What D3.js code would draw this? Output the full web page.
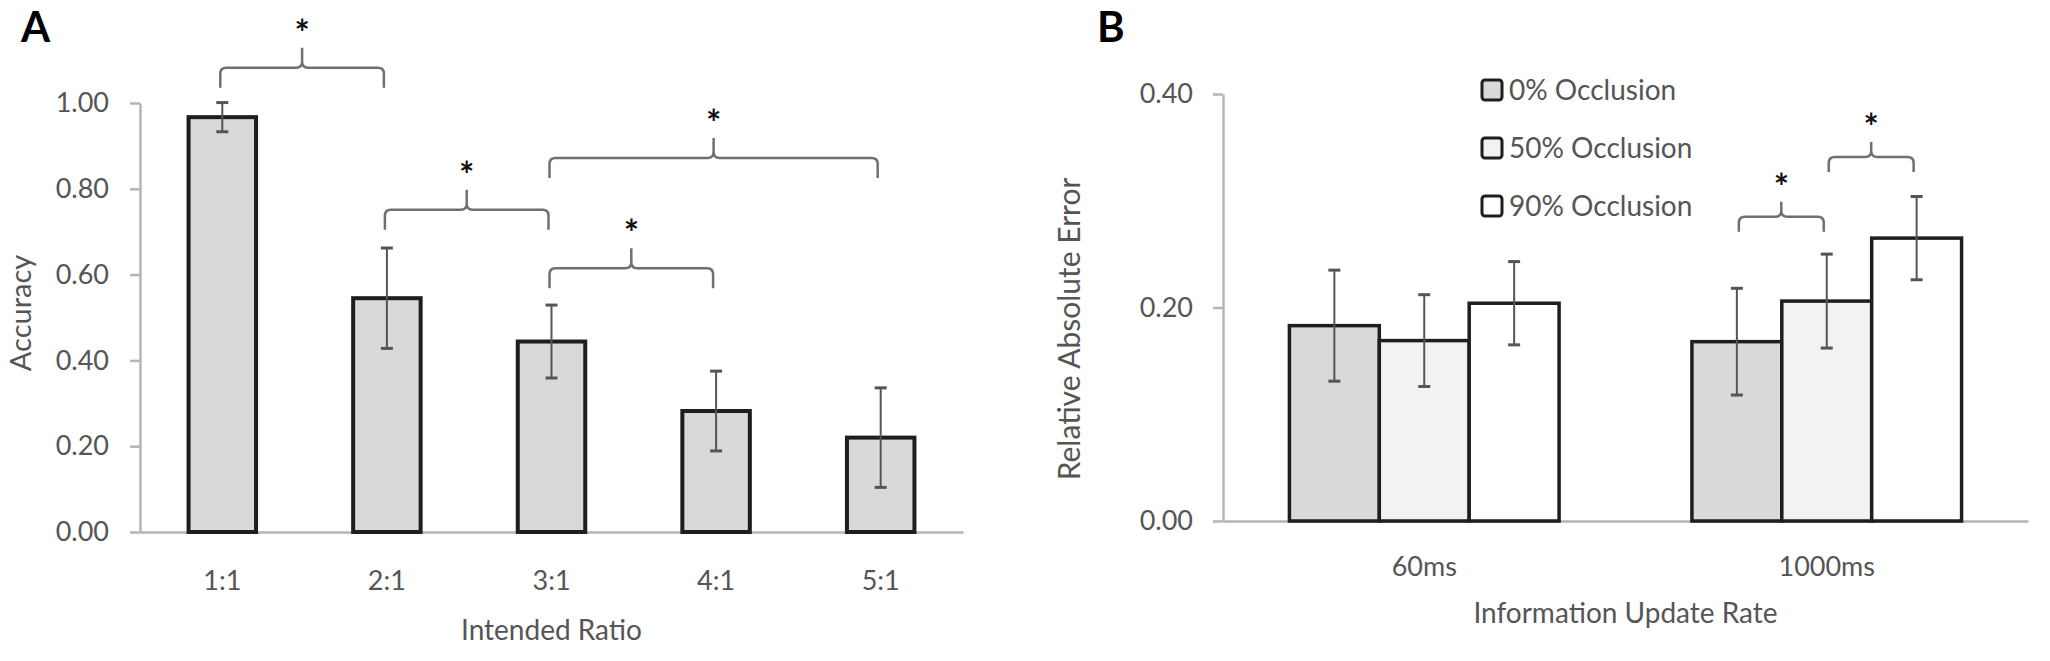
<!DOCTYPE html>
<html>
<head>
<meta charset="utf-8">
<script src="https://cdn.jsdelivr.net/npm/d3@7"></script>
<style>
  body { margin: 0; background: #fff; }
  text { font-family: Lato, "Open Sans", sans-serif; }
</style>
</head>
<body>
<div id="chart"></div>
<script>
// ---- Panel A: accuracy by intended ratio
const ratios = ["1:1", "2:1", "3:1", "4:1", "5:1"];
const accuracy = [0.967, 0.545, 0.444, 0.282, 0.220];
const accuracyErr = [0.034, 0.117, 0.085, 0.093, 0.116];
const accuracyTicks = [0, 0.2, 0.4, 0.6, 0.8, 1.0];
// significance brackets: [from, to, bracket height]
const accuracySig = [["1:1", "2:1", 1.082], ["2:1", "3:1", 0.751], ["3:1", "5:1", 0.872], ["3:1", "4:1", 0.615]];

// ---- Panel B: relative absolute error by update rate and occlusion
const rates = ["60ms", "1000ms"];
const occlusions = ["0% Occlusion", "50% Occlusion", "90% Occlusion"];
const errMean = [[0.183, 0.169, 0.204], [0.168, 0.206, 0.265]];
const errSD = [[0.052, 0.043, 0.039], [0.050, 0.044, 0.039]];
const errTicks = [0, 0.2, 0.4];
// [rate, from series, to series, bracket height]
const errSig = [["1000ms", "0% Occlusion", "50% Occlusion", 0.285], ["1000ms", "50% Occlusion", "90% Occlusion", 0.341]];

const W = 2050, H = 661;
const textColor = "#555";
const axisColor = "#b5b5b5";

const svg = d3.select("#chart").append("svg")
    .attr("width", W)
    .attr("height", H);

// curly significance bracket with a star above the tip
function bracket(g, x1, x2, yTop, drop, rise) {
    const xm = (x1 + x2) / 2, r = 6;
    const p = `M${x1},${yTop + drop} V${yTop + r} Q${x1},${yTop} ${x1 + r},${yTop} H${xm - r} Q${xm},${yTop} ${xm},${yTop - r} V${yTop - rise}`
            + ` M${xm},${yTop - r} Q${xm},${yTop} ${xm + r},${yTop} H${x2 - r} Q${x2},${yTop} ${x2},${yTop + r} V${yTop + drop}`;
    g.append("path")
        .attr("d", p)
        .attr("fill", "none")
        .attr("stroke", "#707070")
        .attr("stroke-width", 2.5);
    g.append("text")
        .attr("x", xm)
        .attr("y", yTop - rise - 2)
        .attr("text-anchor", "middle")
        .attr("font-size", 36)
        .attr("font-weight", "bold")
        .attr("fill", "#111")
        .text("*");
}

function errorBar(g, cx, y, mean, err) {
    const cap = 6;
    g.append("line")
        .attr("x1", cx).attr("x2", cx)
        .attr("y1", y(mean + err)).attr("y2", y(mean - err))
        .attr("stroke", "#555").attr("stroke-width", 2);
    [mean + err, mean - err].forEach(v => {
        g.append("line")
            .attr("x1", cx - cap).attr("x2", cx + cap)
            .attr("y1", y(v)).attr("y2", y(v))
            .attr("stroke", "#555").attr("stroke-width", 3);
    });
}

function styleAxis(g) {
    g.select(".domain").attr("stroke", axisColor).attr("stroke-width", 2.5);
    g.selectAll(".tick line").attr("stroke", axisColor).attr("stroke-width", 2.5);
    g.selectAll(".tick text")
        .attr("fill", textColor)
        .attr("font-size", 27)
        .attr("font-family", "Lato, sans-serif");
}

// ================= Panel A =================
const gA = svg.append("g");

const xA = d3.scaleBand()
    .domain(ratios)
    .range([140, 963])
    .paddingInner(0.59)
    .paddingOuter(0.295);

const yA = d3.scaleLinear()
    .domain([0, 1])
    .range([532, 103]);

gA.append("g")
    .attr("transform", "translate(140,0)")
    .call(d3.axisLeft(yA).tickValues(accuracyTicks).tickFormat(d3.format(".2f"))
        .tickSize(10).tickPadding(21).tickSizeOuter(0))
    .call(styleAxis);

gA.append("g")
    .attr("transform", `translate(0,${yA(0)})`)
    .call(d3.axisBottom(xA).tickSize(0).tickSizeOuter(0))
    .call(styleAxis)
    .call(g => g.selectAll(".tick text").attr("dy", null).attr("y", 58));

gA.selectAll("rect.bar")
    .data(ratios)
    .enter()
    .append("rect")
    .attr("class", "bar")
    .attr("x", d => xA(d))
    .attr("y", (d, i) => yA(accuracy[i]))
    .attr("width", xA.bandwidth())
    .attr("height", (d, i) => yA(0) - yA(accuracy[i]))
    .attr("fill", "#d9d9d9")
    .attr("stroke", "#1e1e1e")
    .attr("stroke-width", 4);

ratios.forEach((d, i) => errorBar(gA, xA(d) + xA.bandwidth() / 2, yA, accuracy[i], accuracyErr[i]));

accuracySig.forEach(([a, b, h]) => {
    bracket(gA, xA(a) + xA.bandwidth() / 2 - 2, xA(b) + xA.bandwidth() / 2 - 3, yA(h), 20, 20);
});

gA.append("text")
    .attr("transform", "translate(31,313) rotate(-90)")
    .attr("text-anchor", "middle")
    .attr("font-size", 29)
    .attr("fill", textColor)
    .text("Accuracy");

gA.append("text")
    .attr("x", (xA.range()[0] + xA.range()[1]) / 2)
    .attr("y", 640)
    .attr("text-anchor", "middle")
    .attr("font-size", 28)
    .attr("fill", textColor)
    .text("Intended Ratio");

svg.append("text")
    .attr("x", 21)
    .attr("y", 42)
    .attr("font-family", "'Liberation Sans', Arial, sans-serif")
    .attr("font-weight", "bold")
    .attr("font-size", 42)
    .attr("fill", "#000")
    .text("A");

// ================= Panel B =================
const gB = svg.append("g");
const fills = ["#d9d9d9", "#f2f2f2", "#ffffff"];

const x0 = d3.scaleBand()
    .domain(rates)
    .range([1223, 2028])
    .paddingInner(0.33)
    .paddingOuter(0.165);

const x1 = d3.scaleBand()
    .domain(occlusions)
    .range([0, x0.bandwidth()]);

const yB = d3.scaleLinear()
    .domain([0, 0.4])
    .range([521, 94]);

const color = d3.scaleOrdinal().domain(occlusions).range(fills);

gB.append("g")
    .attr("transform", "translate(1223,0)")
    .call(d3.axisLeft(yB).tickValues(errTicks).tickFormat(d3.format(".2f"))
        .tickSize(10).tickPadding(20).tickSizeOuter(0))
    .call(styleAxis);

gB.append("g")
    .attr("transform", `translate(0,${yB(0)})`)
    .call(d3.axisBottom(x0).tickSize(0).tickSizeOuter(0))
    .call(styleAxis)
    .call(g => g.selectAll(".tick text").attr("dy", null).attr("y", 55));

const groups = gB.selectAll("g.rate")
    .data(rates)
    .enter()
    .append("g")
    .attr("class", "rate")
    .attr("transform", d => `translate(${x0(d)},0)`);

groups.each(function(rate, ri) {
    const g = d3.select(this);
    g.selectAll("rect")
        .data(occlusions)
        .enter()
        .append("rect")
        .attr("x", d => x1(d))
        .attr("y", (d, si) => yB(errMean[ri][si]))
        .attr("width", x1.bandwidth())
        .attr("height", (d, si) => yB(0) - yB(errMean[ri][si]))
        .attr("fill", d => color(d))
        .attr("stroke", "#1e1e1e")
        .attr("stroke-width", 3.5);
    occlusions.forEach((d, si) => errorBar(g, x1(d) + x1.bandwidth() / 2, yB, errMean[ri][si], errSD[ri][si]));
});

errSig.forEach(([rate, a, b, h]) => {
    const cx = s => x0(rate) + x1(s) + x1.bandwidth() / 2;
    bracket(gB, cx(a) + 2, cx(b) - 3, yB(h), 15, 15);
});

// legend
const legend = gB.append("g")
    .attr("transform", "translate(1482,90)");

occlusions.forEach((d, i) => {
    const row = legend.append("g").attr("transform", `translate(0,${i * 58})`);
    row.append("rect")
        .attr("x", 0).attr("y", -10)
        .attr("width", 20).attr("height", 20)
        .attr("rx", 3)
        .attr("fill", color(d))
        .attr("stroke", "#1e1e1e")
        .attr("stroke-width", 3);
    row.append("text")
        .attr("x", 27)
        .attr("y", 0)
        .attr("dy", "0.36em")
        .attr("font-size", 28)
        .attr("fill", textColor)
        .text(d);
});

gB.append("text")
    .attr("transform", "translate(1080,329) rotate(-90)")
    .attr("text-anchor", "middle")
    .attr("font-size", 30)
    .attr("fill", textColor)
    .text("Relative Absolute Error");

gB.append("text")
    .attr("x", (x0.range()[0] + x0.range()[1]) / 2)
    .attr("y", 623)
    .attr("text-anchor", "middle")
    .attr("font-size", 28)
    .attr("fill", textColor)
    .text("Information Update Rate");

svg.append("text")
    .attr("x", 1097)
    .attr("y", 42)
    .attr("font-family", "'Liberation Sans', Arial, sans-serif")
    .attr("font-weight", "bold")
    .attr("font-size", 42)
    .attr("fill", "#000")
    .text("B");
</script>
</body>
</html>
